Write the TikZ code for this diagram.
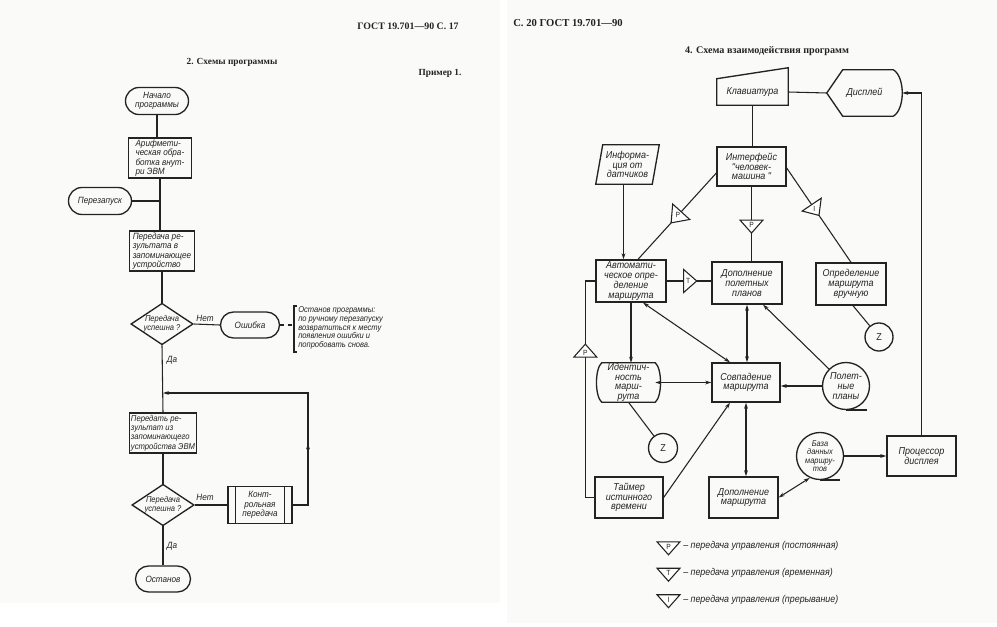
\documentclass[tikz,border=0pt]{standalone}
\usepackage{fontspec}
\setmainfont{Liberation Serif}
\newfontfamily\gost[FakeStretch=0.9]{Liberation Sans}
\usetikzlibrary{shapes.geometric,shapes.misc,arrows.meta,calc}
\newcommand\gfL{\gost\itshape\fontsize{6.8}{7.1}\selectfont}
\newcommand\gfR{\gost\itshape\fontsize{7.5}{7.3}\selectfont}
\definecolor{pagecol}{RGB}{250,250,248}
\definecolor{ink}{RGB}{35,35,35}
\tikzset{
 lbl/.style={font=\gfL, align=center, inner sep=0pt, text=ink},
 shp/.style={draw=ink, line width=1pt, lbl},
 blk/.style 2 args={shp, rectangle, inner sep=1.2pt, minimum width=#1*0.75pt, minimum height=#2*0.75pt},
 term/.style 2 args={shp, rounded rectangle, minimum width=#1*0.75pt, minimum height=#2*0.75pt},
 dec/.style 2 args={shp, diamond, aspect=1.5, font=\gost\itshape\fontsize{6.3}{6.8}\selectfont, minimum width=#1*0.75pt, minimum height=#2*0.75pt},
 ghost/.style 2 args={lbl, rectangle, minimum width=#1*0.75pt, minimum height=#2*0.75pt},
 circ/.style={shp, circle, minimum size=#1*0.75pt},
 con/.style={draw=ink, line width=0.8pt},
 arr/.style={con, -{Stealth[length=4.5pt,width=2.8pt]}},
 barr/.style={con, {Stealth[length=4.5pt,width=2.8pt]}-{Stealth[length=4.5pt,width=2.8pt]}},
 ctl/.style={isosceles triangle, isosceles triangle stretches, draw=ink, fill=white,
   line width=0.8pt, inner sep=0pt, minimum height=9.75pt, minimum width=17.25pt,
   rotate=#1, font=\gost\fontsize{5.6}{6}\selectfont, text=ink},
 hdr/.style={font=\bfseries\fontsize{7.4}{8}\selectfont, inner sep=0pt, text=ink},
}
\begin{document}
\begin{tikzpicture}[x=0.75pt,y=-0.75pt]
\useasboundingbox (0,0) rectangle (997,627);
\fill[white] (0,0) rectangle (997,627);
\fill[pagecol] (0,0) rectangle (500,603);
\fill[pagecol] (507,0) rectangle (997,623);

% ---------------- left page ----------------
\node[hdr] (h1) at (408,26) {ГОСТ 19.701—90 С. 17};
\node[hdr, font=\bfseries\fontsize{7}{8}\selectfont] (h2) at (232,62) {2. Схемы программы};
\node[hdr, font=\bfseries\fontsize{7}{8}\selectfont] (h3) at (440,73) {Пример 1.};

\node[term={63}{27}] (start) at (157,101) {Начало\\программы};
\node[blk={63}{39}, align=left] (ar) at (160,158) {Арифмети-\\ческая обра-\\ботка внут-\\ри ЭВМ};
\node[term={63}{27}] (rs) at (100,201) {Перезапуск};
\node[blk={65}{39}, align=left] (tr1) at (162,251) {Передача ре-\\зультата в\\запоминающее\\устройство};
\node[dec={61}{41}] (d1) at (162,324) {Передача\\успешна ?};
\node[term={59}{26}] (err) at (250,325) {Ошибка};
\node[lbl, align=left, anchor=west, font=\gost\itshape\fontsize{6.3}{6.4}\selectfont] (note) at (298,328)
  {Останов программы:\\по ручному перезапуску\\возвратиться к месту\\появления ошибки и\\попробовать снова.};
\draw[line width=0.9pt, draw=ink] (297,306) -- (294,306) -- (294,352) -- (297,352);
\coordinate (brk) at (294,325);
\node[lbl] (no1) at (205,318) {Нет};
\node[lbl] (yes1) at (172,360) {Да};
\node[blk={67}{40}, align=left, font=\gost\itshape\fontsize{6.4}{7.1}\selectfont] (tr2) at (163,433) {Передать ре-\\зультат из\\запоминающего\\устройства ЭВМ};
\node[dec={61}{41}] (d2) at (163,505) {Передача\\успешна ?};
\node[blk={64}{37}] (kp) at (260,505) {Конт-\\рольная\\передача};
\draw[line width=1pt, draw=ink] ([xshift=6pt]kp.north west) -- ([xshift=6pt]kp.south west);
\draw[line width=1pt, draw=ink] ([xshift=-6pt]kp.north east) -- ([xshift=-6pt]kp.south east);
\node[lbl] (no2) at (205,497) {Нет};
\node[lbl] (yes2) at (172,546) {Да};
\node[term={55}{26}] (stop) at (163,579) {Останов};

\draw[con] (start.south) -- (start.south |- ar.north);
\draw[con] (ar.south) -- (ar.south |- tr1.north);
\draw[con] (rs.east) -- (rs.east -| ar.south);
\draw[con] (tr1.south) -- (d1.north);
\draw[con] (d1.east) -- (err.west);
\draw[con, dash pattern=on 3pt off 2.5pt] (err.east) -- (brk);
\draw[con] (d1.south) -- (tr2.north);
\draw[con] (tr2.south) -- (d2.north);
\draw[con] (d2.east) -- (kp.west);
\draw[con] (d2.south) -- (stop.north);
\coordinate (lpb) at (308,505);
\coordinate (lpc) at (308,393);
\coordinate (lpj) at (tr2.north |- lpc);
\draw[arr] (kp.east) -- (lpb) -- (lpc) -- (lpj);
\draw[arr] (lpb) -- ($(lpb)!0.55!(lpc)$);

% ---------------- right page ----------------
\node[hdr, anchor=west, font=\bfseries\fontsize{8}{9}\selectfont] (h4) at (513,23) {С. 20 ГОСТ 19.701—90};
\node[hdr, font=\bfseries\fontsize{7.6}{9}\selectfont] (h5) at (767,51) {4. Схема взаимодействия программ};

\begin{scope}[lbl/.append style={font=\gfR}]
\node[ghost={71}{26}] (kb) at (752.5,92) {Клавиатура};
\draw[line width=1pt, draw=ink] (kb.south west) -- (kb.north west) -- ([yshift=8.25pt]kb.north east) -- (kb.south east) -- cycle;
\node[ghost={75}{46}] (disp) at (864.5,93) {Дисплей};
\draw[line width=1pt, draw=ink] (disp.west) -- ($(disp.north west)+(16,0)$) -- ($(disp.north east)+(-9,0)$)
  .. controls ($(disp.north east)+(3,7)$) and ($(disp.south east)+(3,-7)$) .. ($(disp.south east)+(-9,0)$)
  -- ($(disp.south west)+(16,0)$) -- cycle;
\node[blk={69}{39}] (ifc) at (751.5,166.5) {Интерфейс\\"человек-\\машина "};
\node[ghost={63}{39}] (inf) at (627.5,164.5) {Информа-\\ция от\\датчиков};
\draw[line width=1pt, draw=ink] (inf.south west) -- ($(inf.north west)+(7,0)$) -- (inf.north east) -- ($(inf.south east)+(-7,0)$) -- cycle;
\node[blk={70}{42}] (auto) at (631,281) {Автомати-\\ческое опре-\\деление\\маршрута};
\node[blk={70}{42}] (dpp) at (747,283) {Дополнение\\полетных\\планов};
\node[blk={70}{42}] (man) at (851,284) {Определение\\маршрута\\вручную};
\node[circ=28, font=\gost\fontsize{7.5}{8}\selectfont] (z1) at (879,337) {Z};
\node[ghost={53}{39}] (ident) at (628.5,382.5) {Идентич-\\ность\\марш-\\рута};
\draw[line width=1pt, draw=ink] (ident.north west) -- (ident.north east)
  .. controls ($(ident.north east)+(7,6)$) and ($(ident.south east)+(7,-6)$) .. (ident.south east)
  -- (ident.south west)
  .. controls ($(ident.south west)+(-7,-6)$) and ($(ident.north west)+(-7,6)$) .. cycle;
\node[blk={68}{39}] (sovp) at (746,382.5) {Совпадение\\маршрута};
\node[circ=47] (plans) at (846,386) {Полет-\\ные\\планы};
\draw[line width=1pt, draw=ink] (plans.south) -- ++(21,0);
\node[circ=29, font=\gost\fontsize{7.5}{8}\selectfont] (z2) at (663,448) {Z};
\node[blk={68}{41}] (timer) at (629,497.5) {Таймер\\истинного\\времени};
\node[blk={69}{41}] (dm) at (743.5,497.5) {Дополнение\\маршрута};
\node[circ=47, font=\gost\itshape\fontsize{6.2}{6.3}\selectfont] (db) at (820,456) {База\\данных\\маршру-\\тов};
\draw[line width=1pt, draw=ink] (db.south) -- ++(20,0);
\node[blk={69}{40}] (proc) at (921.5,456) {Процессор\\дисплея};
\end{scope}

\draw[con] (kb.east) -- (disp.west);
\draw[con] (kb.south) -- (kb.south |- ifc.north);
\draw[arr] (proc.north) |- (disp.east);
\draw[arr] ([xshift=-3pt]inf.south) -- ([xshift=-3pt]inf.south |- auto.north);
\draw[con] ([yshift=-4.9pt]ifc.west) -- node[ctl=227.8, pos=0.49] (t1) {\rotatebox{-227.8}{Р}} ([xshift=5.25pt]auto.north);
\draw[con] (ifc.south) -- node[ctl=270, pos=0.51] (t2) {\rotatebox{90}{Р}} (ifc.south |- dpp.north);
\draw[con] ([yshift=-1.1pt]ifc.east) -- node[ctl=-56, pos=0.43] (t3) {\rotatebox{56}{I}} (man.north);
\draw[con] (auto.east) -- node[ctl=0, pos=0.48] (t4) {Т} (auto.east -| dpp.west);
\draw[arr] (auto.south) -- (auto.south |- ident.north);
\draw[barr] ([xshift=9pt]auto.south) -- ([xshift=-12pt]sovp.north);
\draw[barr] (dpp.south) -- (dpp.south |- sovp.north);
\draw[arr] (plans.135) -- ([xshift=12pt]dpp.south);
\draw[barr] (ident.east) -- (sovp.west);
\draw[arr] (plans.west) -- (plans.west -| sovp.east);
\draw[con] (ident.south) -- (z2);
\draw[con] ([xshift=1.5pt]man.south) -- (z1);
\coordinate (lv1) at ($(timer.west)+(-9,0)$);
\coordinate (lv2) at (lv1 |- auto.west);
\draw[con] (timer.west) -- (lv1) -- node[ctl=90, pos=0.67] (t5) {\rotatebox{-90}{Р}} (lv2) -- (auto.west);
\draw[arr] (timer.east) -- ([xshift=-12pt]sovp.south);
\draw[barr] (sovp.south) -- (sovp.south |- dm.north);
\draw[barr] (dm.east) -- (db.245);
\draw[arr] (db.east) -- (proc.west);

% legend
\node[ctl=270] (lg1) at (668.5,546.5) {\rotatebox{90}{Р}};
\node[ctl=270] (lg2) at (668.5,573) {\rotatebox{90}{Т}};
\node[ctl=270] (lg3) at (668.5,600) {\rotatebox{90}{I}};
\node[lbl, anchor=west, font=\gost\itshape\fontsize{7.4}{8}\selectfont] (lt1) at (683,545.5) {– передача управления (постоянная)};
\node[lbl, anchor=west, font=\gost\itshape\fontsize{7.4}{8}\selectfont] (lt2) at (683,573) {– передача управления (временная)};
\node[lbl, anchor=west, font=\gost\itshape\fontsize{7.4}{8}\selectfont] (lt3) at (683,600) {– передача управления (прерывание)};
\end{tikzpicture}
\end{document}
